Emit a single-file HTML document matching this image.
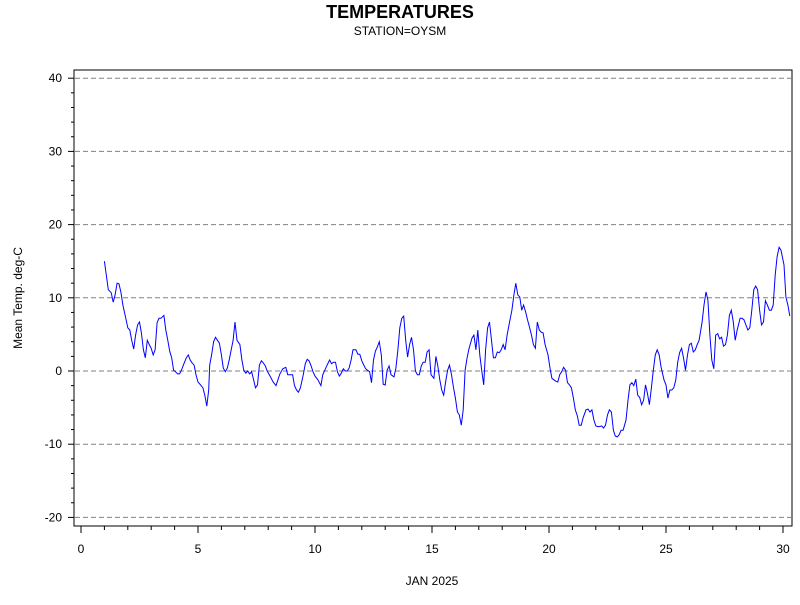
<!DOCTYPE html>
<html><head><meta charset="utf-8"><style>
body{margin:0;background:#fff;}
svg text{font-family:"Liberation Sans",Arial,sans-serif;}
</style></head><body>
<svg id="chart" width="800" height="600" xmlns="http://www.w3.org/2000/svg">
<text x="400" y="18" text-anchor="middle" font-size="18" font-weight="bold">TEMPERATURES</text>
<text x="400" y="35" text-anchor="middle" font-size="12">STATION=OYSM</text>
<text transform="translate(22,298) rotate(-90)" text-anchor="middle" font-size="12">Mean Temp. deg-C</text>
<text x="432" y="585" text-anchor="middle" font-size="12">JAN 2025</text>
<g id="grid"></g>
<g id="axes"></g>
<path id="line" fill="none" stroke="#0000ff" stroke-width="1"></path>
<rect x="74" y="70" width="718" height="456" fill="none" stroke="#000" stroke-width="1"></rect>
</svg>
<script>
const hours=[0,2,4,7,9,11,13,15,17,19,22,24,26,28,30,32,34,36,38,40,42,44,46,48,50,52,54,56,58,61,63,65,67,69,71,73,75,77,79,81,84,86,88,90,92,94,96,98,101,103,105,107,108,110,112,114,116,118,120,122,124,126,128,130,132,134,136,139,141,143,145,147,149,151,153,155,157,159,161,163,165,167,170,173,176,180,183,186,188,191,193,195,197,199,201,204,206,208,210,212,214,216,219,222,224,226,228,231,233,235,237,239,241,243,245,247,249,251,253,255,258,260,262,264,266,268,270,272,274,276,278,280,282,284,286,288,290,292,294,297,299,301,303,305,307,309,311,313,315,317,319,321,323,325,327,329,331,333,335,338,340,342,344,346,348,350,352,354,356,358,360,362,364,366,368,370,372,374,377,379,381,383,385,387,389,391,393,395,397,399,401,403,405,407,409,411,413,416,418,420,422,424,426,428,430,432,434,436,438,440,442,444,446,448,450,452,455,457,459,461,463,465,467,469,471,473,475,477,479,481,483,485,487,489,491,494,496,498,500,502,504,506,508,510,512,514,516,518,520,522,524,526,528,530,532,535,537,539,541,543,545,547,549,551,553,555,557,559,561,563,565,567,569,571,574,576,578,580,582,584,586,588,590,592,594,596,598,600,602,604,606,608,610,613,615,617,619,621,623,625,627,629,631,633,635,637,639,641,643,645,647,649,652,654,656,658,660,662,664,666,668,670,672,674,676,678,680,682,684,686,688,690,692,694,697,699,701,703];
const temps=[15.0,13.1,11.1,10.7,9.4,10.4,12.0,11.9,10.7,9.0,7.2,5.9,5.6,4.2,3.0,4.9,6.3,6.7,5.2,2.9,1.8,4.2,3.6,3.1,2.2,2.9,6.6,7.2,7.2,7.6,5.6,4.2,2.7,1.8,0.1,-0.1,-0.4,-0.4,0.1,0.8,1.8,2.2,1.5,1.1,0.8,-0.5,-1.5,-1.8,-2.3,-3.3,-4.8,-2.6,0.8,2.2,4.0,4.6,4.2,3.8,2.2,0.4,-0.1,0.4,1.5,2.9,4.2,6.7,4.2,3.6,1.5,0.1,-0.3,0,-0.4,-0.1,-1.2,-2.3,-1.9,0.8,1.4,1.1,0.7,0,-0.7,-1.5,-2.0,-0.4,0.3,0.5,-0.5,-0.5,-0.5,-2.0,-2.6,-2.9,-2.3,-0.5,1.0,1.6,1.4,0.7,-0.1,-0.7,-1.2,-2.0,-0.5,0.1,0.7,1.5,1.0,1.2,1.2,-0.1,-0.7,-0.3,0.3,0,0,0.4,1.5,2.9,2.9,2.3,2.3,1.4,0.8,0.3,0.1,-0.1,-1.6,1.5,2.7,3.3,4.0,2.2,-1.8,-1.9,0.1,0.7,-0.5,-0.8,0.4,2.9,5.9,7.2,7.5,4.2,1.9,3.6,4.6,2.9,0,-0.5,-0.5,0.7,1.2,1.2,2.6,2.9,-0.5,-1.0,2.0,0.7,-1.2,-2.6,-3.3,-1.5,0.1,0.8,-0.5,-2.2,-3.7,-5.6,-6.0,-7.4,-5.3,0.1,1.8,3.1,4.5,4.9,2.9,5.6,2.2,0.1,-1.9,2.9,5.9,6.7,4.2,1.8,1.8,2.6,2.5,2.9,3.6,2.9,4.9,7.0,8.3,10.4,12.0,10.4,10.1,8.3,9.0,8.1,7.0,6.0,4.9,3.6,3.1,6.7,5.6,5.3,5.2,3.6,2.2,0.4,-1.0,-1.2,-1.4,-1.5,-0.5,-0.1,0.5,0.1,-1.6,-1.9,-2.3,-3.7,-5.3,-6.1,-7.4,-7.4,-6.4,-5.3,-5.2,-5.6,-5.3,-6.7,-7.5,-7.6,-7.6,-7.5,-7.8,-7.4,-6.0,-5.3,-5.6,-8.1,-8.9,-9.0,-8.7,-8.1,-8.1,-6.7,-4.0,-1.9,-1.6,-2.0,-1.1,-3.3,-3.6,-4.6,-4.0,-1.9,-3.1,-4.6,-2.3,0.1,2.2,2.9,2.2,0.5,-1.2,-1.9,-3.7,-2.6,-2.6,-2.3,-1.2,1.2,2.5,3.1,1.8,0.1,2.2,3.6,3.8,2.6,2.9,3.6,4.2,6.7,9.0,10.8,9.7,4.9,1.5,0.3,4.9,5.1,4.4,4.6,3.4,3.6,4.9,7.6,8.3,6.7,4.2,5.6,7.2,7.2,7.0,6.3,5.6,5.9,8.3,11.1,11.6,11.1,8.3,6.3,6.7,9.6,9.0,8.3,8.3,9.0,13.1,15.6,16.9,16.5,14.5,10.1,9.0,7.5];
const yTicks=[-20,-10,0,10,20,30,40];
const xTicks=[0,5,10,15,20,25,30];

const NS="http://www.w3.org/2000/svg";
function xs(d){return 81+(d)*23.4;}
function ys(v){return 371-v*7.32;}
function mk(tag,attrs,parent){const e=document.createElementNS(NS,tag);for(const k in attrs)e.setAttribute(k,attrs[k]);parent.appendChild(e);return e;}
const grid=document.getElementById('grid'),axes=document.getElementById('axes');
yTicks.forEach(v=>{
  const y=ys(v);
  const g=mk('line',{x1:75,x2:791,y1:y,y2:y,stroke:'#808080','stroke-dasharray':'5,3','stroke-width':1},grid);
  
  
  const t=mk('line',{x1:68,x2:74,y1:y,y2:y,stroke:'#000'},axes);
  
  
  const l=mk('text',{x:62,y:y+4,'text-anchor':'end','font-size':12},axes);
  l.textContent=v;
  
  
});
for(let v=-20;v<=40;v+=2){if(v%10===0)continue;const m=mk('line',{x1:71,x2:74,y1:ys(v),y2:ys(v),stroke:'#000'},axes);
  
  }
xTicks.forEach(d=>{
  const x=xs(d);
  const t=mk('line',{x1:x,x2:x,y1:526,y2:533,stroke:'#000'},axes);
  
  
  const l=mk('text',{x:x,y:553,'text-anchor':'middle','font-size':12},axes);
  l.textContent=d;
  
  
});
for(let d=0;d<=30;d++){if(d%5===0)continue;const m=mk('line',{x1:xs(d),x2:xs(d),y1:526,y2:530,stroke:'#000'},axes);
  
  }
let p='';
for(let i=0;i<temps.length;i++){const d=1+hours[i]/24;p+=(i?'L':'M')+xs(d).toFixed(1)+','+ys(temps[i]).toFixed(1);}
document.getElementById('line').setAttribute('d',p);
</script>
</body></html>
